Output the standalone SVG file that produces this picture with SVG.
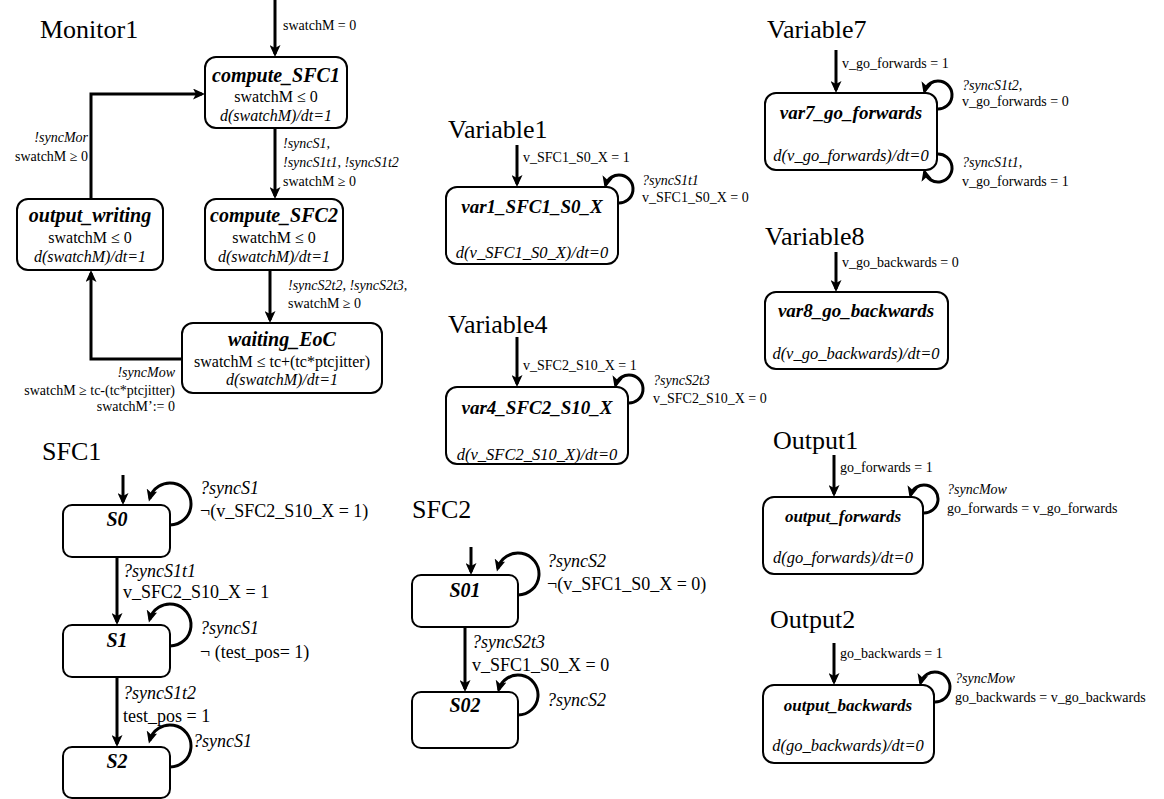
<svg xmlns="http://www.w3.org/2000/svg" width="1164" height="799" viewBox="0 0 1164 799">
<defs>
<marker id="ah" markerUnits="userSpaceOnUse" markerWidth="13" markerHeight="11" refX="9" refY="5.5" orient="auto">
<path d="M0,0 L12,5.5 L0,11 L3,5.5 Z" fill="#000"/>
</marker>
<style>
text{font-family:"Liberation Serif","Times New Roman",serif;fill:#000}
.box{fill:#fff;stroke:#000;stroke-width:2}
.edge{fill:none;stroke:#000;stroke-width:3;marker-end:url(#ah)}
.ttl{font-size:26px}
.st{font-size:20px;font-weight:bold;font-style:italic;text-anchor:middle}
.vt{font-size:19px;font-weight:bold;font-style:italic;text-anchor:middle}
.ot{font-size:17px;font-weight:bold;font-style:italic;text-anchor:middle}
.inv{font-size:16px;text-anchor:middle}
.flow{font-size:16px;font-style:italic;text-anchor:middle}
.vflow{font-size:16.5px;font-style:italic;text-anchor:middle}
.l{font-size:14px}
.li{font-size:14px;font-style:italic}
.r{text-anchor:end}
.s{font-size:18px}
.si{font-size:18px;font-style:italic}
</style>
</defs>
<rect width="1164" height="799" fill="#fff"/>

<!-- Titles -->
<text class="ttl" x="40" y="38">Monitor1</text>
<text class="ttl" x="448" y="138">Variable1</text>
<text class="ttl" x="448" y="333">Variable4</text>
<text class="ttl" x="767" y="38">Variable7</text>
<text class="ttl" x="765" y="245">Variable8</text>
<text class="ttl" x="773" y="449">Output1</text>
<text class="ttl" x="770" y="628">Output2</text>
<text class="ttl" x="42" y="460">SFC1</text>
<text class="ttl" x="412" y="518">SFC2</text>

<!-- Connectors -->
<g id="connectors">
<path class="edge" d="M275,0 V54"/>
<path class="edge" d="M275,128 V196"/>
<path class="edge" d="M270,270 V320"/>
<path class="edge" d="M182,359 H91 V273"/>
<path class="edge" d="M91,199 V94 H202"/>

<path class="edge" d="M517,145 V184"/>
<path class="edge" d="M618,203 A14 14 0 1 0 605.5,185.4"/>
<path class="edge" d="M517,337 V384"/>
<path class="edge" d="M628,403 A14 14 0 1 0 615.5,385.4"/>
<path class="edge" d="M836,50 V90"/>
<path class="edge" d="M937,109 A14 14 0 1 0 924.5,91.4"/>
<path class="edge" d="M937,154 A14 14 0 1 1 924.5,171.6"/>
<path class="edge" d="M836,252 V289"/>
<path class="edge" d="M834,455 V494"/>
<path class="edge" d="M923,513 A14 14 0 1 0 910.5,495.4"/>
<path class="edge" d="M834,643 V682"/>
<path class="edge" d="M934,702 A15 15 0 1 0 920.5,683.1"/>

<path class="edge" d="M123,475 V502"/>
<path class="edge" d="M170,525 A21 21 0 1 0 149.7,498.6"/>
<path class="edge" d="M117,557 V622"/>
<path class="edge" d="M170,646 A21 21 0 1 0 149.7,619.6"/>
<path class="edge" d="M117,677 V744"/>
<path class="edge" d="M170,767 A21 21 0 1 0 149.7,740.6"/>

<path class="edge" d="M471,547 V572"/>
<path class="edge" d="M518,595 A21 21 0 1 0 497.7,568.6"/>
<path class="edge" d="M465,627 V689"/>
<path class="edge" d="M518,715 A20 20 0 1 0 498.7,689.8"/>
</g>

<!-- Connector labels -->
<g id="labels">
<text class="l" x="283" y="30">swatchM = 0</text>
<text class="li r" x="88" y="142">!syncMor</text>
<text class="l r" x="88" y="161">swatchM ≥ 0</text>
<text class="li" x="283" y="148">!syncS1,</text>
<text class="li" x="283" y="167">!syncS1t1, !syncS1t2</text>
<text class="l" x="283" y="186">swatchM ≥ 0</text>
<text class="li" x="288" y="290">!syncS2t2, !syncS2t3,</text>
<text class="l" x="288" y="308">swatchM ≥ 0</text>
<text class="li r" x="175" y="377">!syncMow</text>
<text class="l r" x="175" y="395">swatchM ≥ tc-(tc*ptcjitter)</text>
<text class="l r" x="175" y="411">swatchM’:= 0</text>

<text class="l" x="523" y="162">v_SFC1_S0_X = 1</text>
<text class="li" x="642" y="185">?syncS1t1</text>
<text class="l" x="642" y="202">v_SFC1_S0_X = 0</text>
<text class="l" x="523" y="370">v_SFC2_S10_X = 1</text>
<text class="li" x="653" y="385">?syncS2t3</text>
<text class="l" x="653" y="403">v_SFC2_S10_X = 0</text>

<text class="l" x="842" y="68">v_go_forwards = 1</text>
<text class="li" x="962" y="90">?syncS1t2,</text>
<text class="l" x="962" y="106">v_go_forwards = 0</text>
<text class="li" x="962" y="167">?syncS1t1,</text>
<text class="l" x="962" y="186">v_go_forwards = 1</text>
<text class="l" x="842" y="267">v_go_backwards = 0</text>

<text class="l" x="840" y="472">go_forwards = 1</text>
<text class="li" x="947" y="494">?syncMow</text>
<text class="l" x="947" y="513">go_forwards = v_go_forwards</text>
<text class="l" x="840" y="658">go_backwards = 1</text>
<text class="li" x="955" y="683">?syncMow</text>
<text class="l" x="955" y="702">go_backwards = v_go_backwards</text>

<text class="si" x="200" y="494">?syncS1</text>
<text class="s" x="200" y="517">¬(v_SFC2_S10_X = 1)</text>
<text class="si" x="123" y="577">?syncS1t1</text>
<text class="s" x="123" y="598">v_SFC2_S10_X = 1</text>
<text class="si" x="200" y="634">?syncS1</text>
<text class="s" x="200" y="658">¬ (test_pos= 1)</text>
<text class="si" x="123" y="699">?syncS1t2</text>
<text class="s" x="123" y="722">test_pos = 1</text>
<text class="si" x="193" y="747">?syncS1</text>

<text class="si" x="547" y="567">?syncS2</text>
<text class="s" x="547" y="590">¬(v_SFC1_S0_X = 0)</text>
<text class="si" x="472" y="648">?syncS2t3</text>
<text class="s" x="472" y="671">v_SFC1_S0_X = 0</text>
<text class="si" x="547" y="706">?syncS2</text>
</g>

<!-- Monitor1 nodes -->
<g id="compute_SFC1">
<rect class="box" x="205" y="57" width="142" height="71" rx="11"/>
<text class="st" x="276" y="82">compute_SFC1</text>
<text class="inv" x="276" y="102">swatchM ≤ 0</text>
<text class="flow" x="276" y="121">d(swatchM)/dt=1</text>
</g>
<g id="output_writing">
<rect class="box" x="17" y="199" width="146" height="71" rx="11"/>
<text class="st" x="90" y="222">output_writing</text>
<text class="inv" x="90" y="243">swatchM ≤ 0</text>
<text class="flow" x="90" y="262">d(swatchM)/dt=1</text>
</g>
<g id="compute_SFC2">
<rect class="box" x="205" y="199" width="138" height="71" rx="11"/>
<text class="st" x="274" y="222">compute_SFC2</text>
<text class="inv" x="274" y="243">swatchM ≤ 0</text>
<text class="flow" x="274" y="262">d(swatchM)/dt=1</text>
</g>
<g id="waiting_EoC">
<rect class="box" x="182" y="323" width="200" height="70" rx="11"/>
<text class="st" x="282" y="346">waiting_EoC</text>
<text class="inv" x="282" y="367">swatchM ≤ tc+(tc*ptcjitter)</text>
<text class="flow" x="282" y="385">d(swatchM)/dt=1</text>
</g>

<!-- Variable nodes -->
<g id="var1_SFC1_S0_X">
<rect class="box" x="446" y="187" width="172" height="77" rx="11"/>
<text class="vt" x="532" y="213">var1_SFC1_S0_X</text>
<text class="vflow" x="532" y="258">d(v_SFC1_S0_X)/dt=0</text>
</g>
<g id="var4_SFC2_S10_X">
<rect class="box" x="446" y="387" width="182" height="77" rx="11"/>
<text class="vt" x="537" y="414">var4_SFC2_S10_X</text>
<text class="vflow" x="537" y="460">d(v_SFC2_S10_X)/dt=0</text>
</g>
<g id="var7_go_forwards">
<rect class="box" x="765" y="93" width="172" height="77" rx="11"/>
<text class="vt" x="851" y="119">var7_go_forwards</text>
<text class="vflow" x="851" y="161">d(v_go_forwards)/dt=0</text>
</g>
<g id="var8_go_backwards">
<rect class="box" x="765" y="292" width="183" height="77" rx="11"/>
<text class="vt" x="856" y="317">var8_go_backwards</text>
<text class="vflow" x="856" y="359">d(v_go_backwards)/dt=0</text>
</g>

<!-- Output nodes -->
<g id="output_forwards">
<rect class="box" x="763" y="497" width="160" height="77" rx="11"/>
<text class="ot" x="843" y="522">output_forwards</text>
<text class="vflow" x="843" y="563">d(go_forwards)/dt=0</text>
</g>
<g id="output_backwards">
<rect class="box" x="763" y="685" width="171" height="78" rx="11"/>
<text class="ot" x="848" y="711">output_backwards</text>
<text class="vflow" x="848" y="751">d(go_backwards)/dt=0</text>
</g>

<!-- SFC1 nodes -->
<g id="S0">
<rect class="box" x="63" y="505" width="107" height="52" rx="9"/>
<text class="st" x="117" y="526">S0</text>
</g>
<g id="S1">
<rect class="box" x="63" y="625" width="107" height="52" rx="9"/>
<text class="st" x="117" y="647">S1</text>
</g>
<g id="S2">
<rect class="box" x="63" y="747" width="107" height="51" rx="9"/>
<text class="st" x="117" y="768">S2</text>
</g>

<!-- SFC2 nodes -->
<g id="S01">
<rect class="box" x="412" y="575" width="106" height="52" rx="9"/>
<text class="st" x="465" y="597">S01</text>
</g>
<g id="S02">
<rect class="box" x="412" y="692" width="106" height="56" rx="9"/>
<text class="st" x="465" y="712">S02</text>
</g>
</svg>
